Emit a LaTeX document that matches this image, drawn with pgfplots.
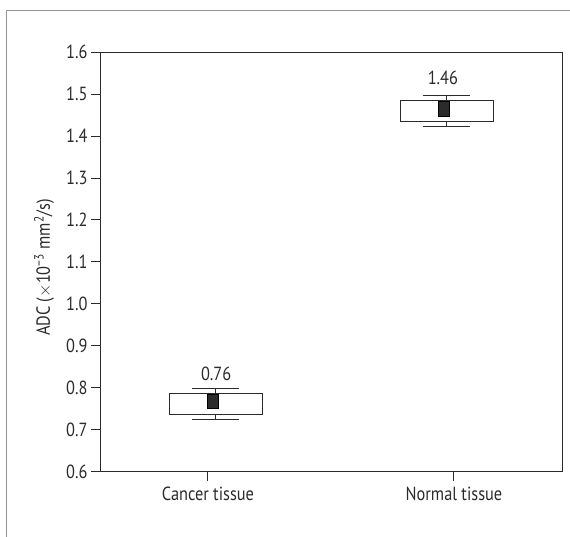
\documentclass[border=0pt]{standalone}
\usepackage{pgfplots}
\pgfplotsset{compat=1.18}
\usepgfplotslibrary{statistics}
\usepackage{fontspec}
\setmainfont{PT Sans}[FakeStretch=0.86]
\definecolor{ink}{HTML}{2B2B2B}
\newcommand\lblfont{\fontsize{19}{22}\selectfont}
\begin{document}
\begin{tikzpicture}
\useasboundingbox (0,0) rectangle (570pt,-536pt);
\draw[color=gray!85, line width=1.2pt] (6.7pt,-10.7pt) rectangle (576pt,-546pt);
\begin{axis}[
  at={(100pt,-471.5pt)}, anchor=south west,
  scale only axis, width=462.7pt, height=419.2pt,
  xmin=0.561, xmax=2.442, ymin=0.6, ymax=1.6,
  xtick={1,2}, xticklabels={Cancer tissue, Normal tissue},
  ytick={0.6,0.7,0.8,0.9,1.0,1.1,1.2,1.3,1.4,1.5,1.6},
  ytick pos=left, xtick pos=bottom,
  tick align=outside, major tick length=9pt,
  axis line style={ink, line width=1pt},
  every tick/.style={ink, line width=1pt},
  tick label style={font=\lblfont, text=ink},
  yticklabel style={/pgf/number format/.cd, fixed, fixed zerofill, precision=1, assume math mode=true},
  xticklabel style={yshift=-3pt},
  ylabel={ADC ($\times$10\textsuperscript{−3} mm\textsuperscript{2}/s)},
  ylabel style={at={(axis description cs:-0.121,0.487)}, anchor=center, font=\lblfont, text=ink},
  boxplot/draw direction=y,
  clip=false,
]
\addplot[ink, line width=1pt, boxplot prepared={draw position=1.031, lower whisker=0.724, lower quartile=0.735, median=0.735, upper quartile=0.787, upper whisker=0.797, box extend=0.378, whisker extend=0.194}] coordinates {};
\addplot[ink, line width=1pt, boxplot prepared={draw position=1.970, lower whisker=1.424, lower quartile=1.436, median=1.436, upper quartile=1.4845, upper whisker=1.498, box extend=0.378, whisker extend=0.194}] coordinates {};
\addplot[only marks, mark=square*, mark size=7.3pt, mark options={xscale=0.75, draw=none, fill=ink}] coordinates {(1.019,0.768) (1.958,1.466)};
\node[font=\lblfont, text=ink] at (axis cs:1.033,0.834) {0.76};
\node[font=\lblfont, text=ink] at (axis cs:1.955,1.538) {1.46};
\end{axis}
\end{tikzpicture}
\end{document}
